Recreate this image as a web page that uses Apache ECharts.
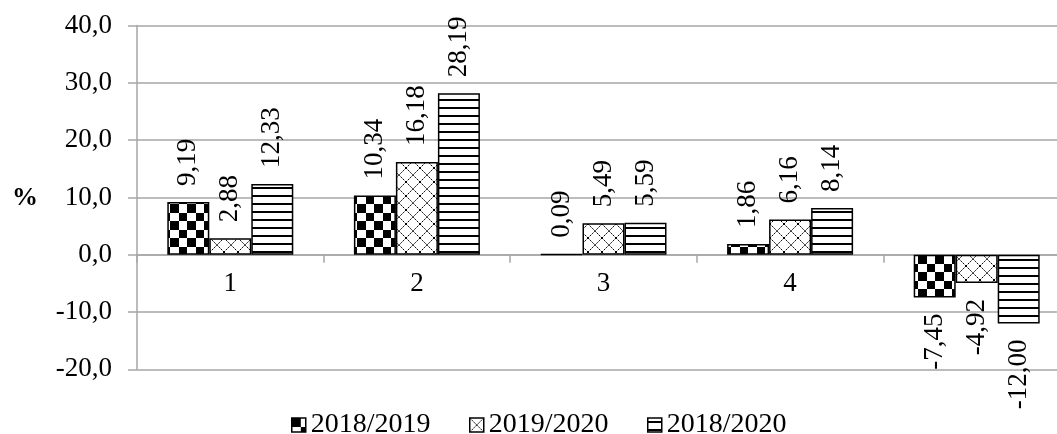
<!DOCTYPE html>
<html>
<head>
<meta charset="utf-8">
<script src="https://cdn.jsdelivr.net/npm/echarts@6/dist/echarts.min.js"></script>
<style>html,body{margin:0;padding:0;background:#fff;overflow:hidden}#c{width:1070px;height:434px}</style>
</head>
<body>
<div id="c"></div>
<script>
var categories = ['1', '2', '3', '4', ''];
var seriesNames = ['2018/2019', '2019/2020', '2018/2020'];
var s2018_2019 = [9.19, 10.34, 0.09, 1.86, -7.45];
var s2019_2020 = [2.88, 16.18, 5.49, 6.16, -4.92];
var s2018_2020 = [12.33, 28.19, 5.59, 8.14, -12.00];
var yTicks = {min: -20, max: 40, interval: 10};

var FONT = '"Liberation Serif", "Times New Roman", serif';
var GRID = {left: 137, top: 25.6, width: 933, height: 343.7};
var zeroOffset = -(0 - yTicks.min) / (yTicks.max - yTicks.min) * GRID.height;
var legendLeft = [286, 464, 642];

function makeTile(w, h, draw) {
  var c = document.createElement('canvas');
  c.width = w; c.height = h;
  var ctx = c.getContext('2d');
  ctx.fillStyle = '#fff'; ctx.fillRect(0, 0, w, h);
  draw(ctx);
  return {image: c, repeat: 'repeat'};
}
var checker = makeTile(17, 17, function (ctx) {
  ctx.fillStyle = '#000';
  ctx.fillRect(0, 0, 9, 9);
  ctx.fillRect(9, 9, 8, 8);
});
var hatch = makeTile(14, 14, function (ctx) {
  ctx.strokeStyle = '#000';
  ctx.lineWidth = 1;
  ctx.setLineDash([2, 1]);
  ctx.beginPath();
  ctx.moveTo(0, 0); ctx.lineTo(14, 14);
  ctx.moveTo(14, 0); ctx.lineTo(0, 14);
  ctx.stroke();
});
var horiz = makeTile(8, 8, function (ctx) {
  ctx.fillStyle = '#000';
  ctx.fillRect(0, 3, 8, 2);
});
var patterns = [checker, hatch, horiz];
var values = [s2018_2019, s2019_2020, s2018_2020];

function fmt(v) { return v.toFixed(2).replace('.', ','); }

var series = seriesNames.map(function (name, i) {
  return {
    name: name,
    type: 'bar',
    barWidth: 42,
    barGap: '0%',
    itemStyle: {color: patterns[i], borderColor: '#000', borderWidth: 1.5},
    data: values[i].map(function (v) {
      return {
        value: v,
        label: v >= 0
          ? {position: 'top', align: 'left'}
          : {position: 'bottom', align: 'right'}
      };
    }),
    label: {
      show: true,
      rotate: 90,
      distance: 16,
      verticalAlign: 'middle',
      fontFamily: FONT,
      fontSize: 27,
      color: '#000',
      formatter: function (p) { return fmt(p.value); }
    }
  };
});

var legends = seriesNames.map(function (name, i) {
  return {
    left: legendLeft[i],
    top: 406,
    itemWidth: 14,
    itemHeight: 14,
    icon: 'rect',
    itemStyle: {borderColor: '#000', borderWidth: 1.5},
    textStyle: {color: '#000', fontFamily: FONT, fontSize: 28},
    data: [name]
  };
});

var chart = echarts.init(document.getElementById('c'));
chart.setOption({
  animation: false,
  backgroundColor: '#fff',
  grid: GRID,
  xAxis: {
    type: 'category',
    data: categories,
    offset: zeroOffset,
    axisLine: {onZero: false, lineStyle: {color: '#a6a6a6', width: 1.5}},
    axisTick: {show: true, length: 8, lineStyle: {color: '#a6a6a6', width: 1.5}},
    axisLabel: {color: '#000', fontFamily: FONT, fontSize: 27, margin: 16},
    splitLine: {show: false}
  },
  yAxis: {
    type: 'value',
    min: yTicks.min, max: yTicks.max, interval: yTicks.interval,
    axisLine: {show: true, lineStyle: {color: '#a6a6a6', width: 1.5}},
    axisTick: {show: true, length: 9, lineStyle: {color: '#a6a6a6', width: 1.5}},
    axisLabel: {
      color: '#000', fontFamily: FONT, fontSize: 27, margin: 25,
      formatter: function (v) { return v.toFixed(1).replace('.', ','); }
    },
    splitLine: {show: true, lineStyle: {color: '#a6a6a6', width: 1.5}}
  },
  legend: legends,
  graphic: [{
    type: 'text',
    left: 12,
    top: 185,
    style: {text: '%', font: 'bold 26px ' + FONT, fill: '#000'}
  }],
  series: series
});
</script>
</body>
</html>
